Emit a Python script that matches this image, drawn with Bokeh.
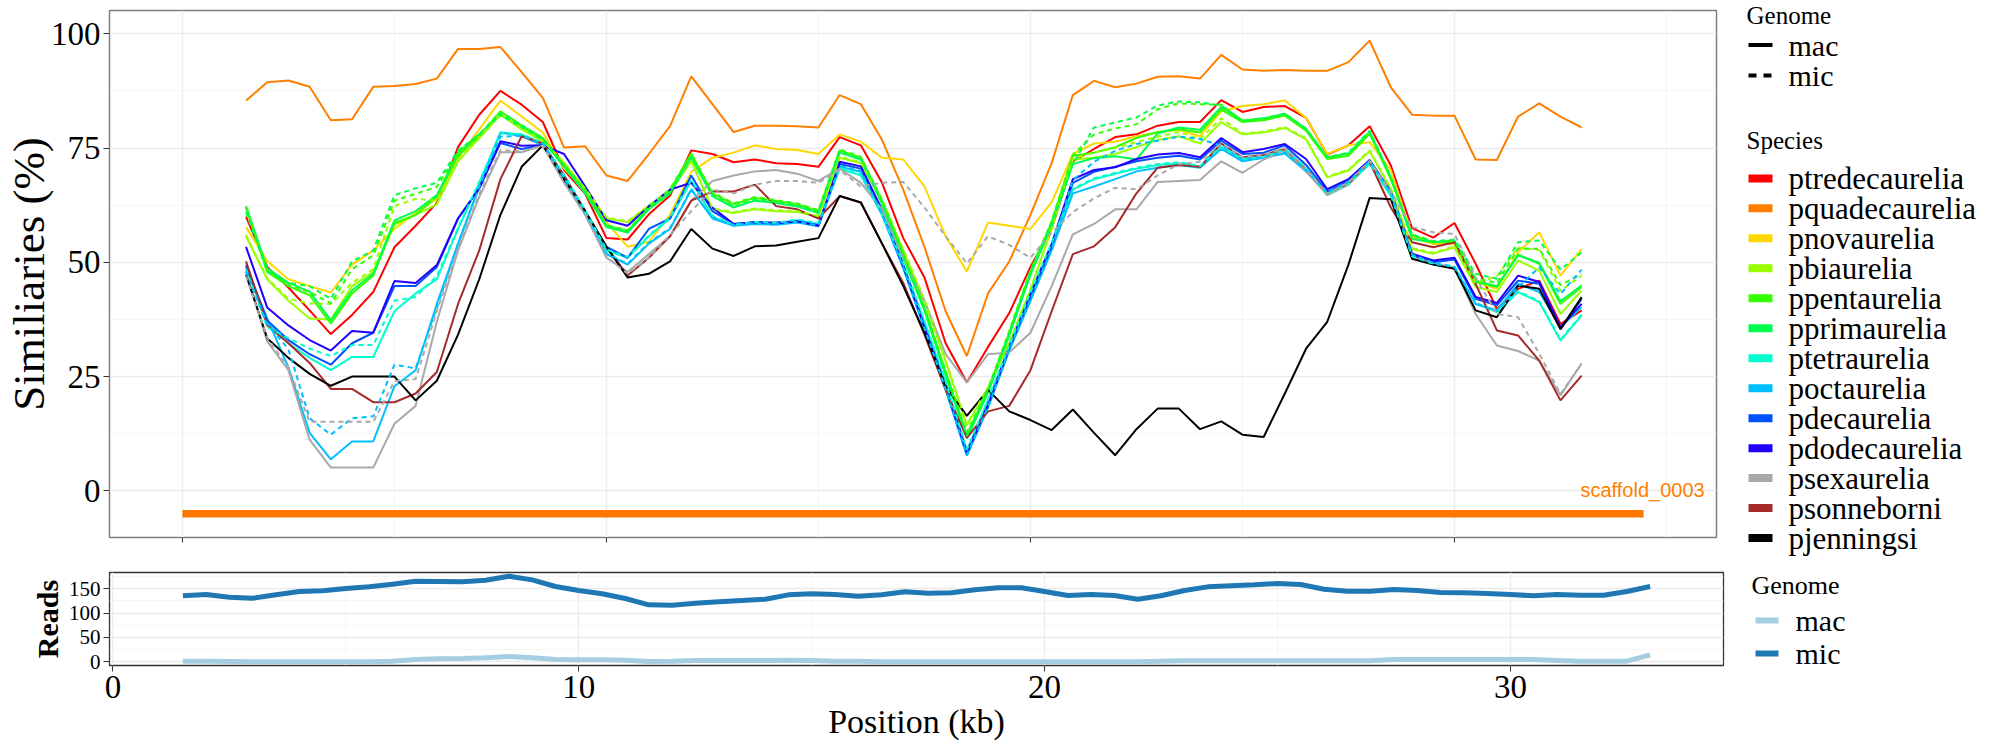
from bokeh.plotting import figure
from bokeh.models import Range1d, FixedTicker, CustomLabelingPolicy
from bokeh.layouts import row, column
from bokeh.embed import file_html
from bokeh.resources import INLINE
from bokeh.core.properties import value

SERIF = "Liberation Serif"
SANS = "Liberation Sans"

# ---------------- data ----------------
position_kb = [1.5, 2.0, 2.5, 3.0, 3.5, 4.0, 4.5, 5.0, 5.5, 6.0, 6.5, 7.0, 7.5, 8.0, 8.5, 9.0,
               9.5, 10.0, 10.5, 11.0, 11.5, 12.0, 12.5, 13.0, 13.5, 14.0, 14.5, 15.0, 15.5, 16.0,
               16.5, 17.0, 17.5, 18.0, 18.5, 19.0, 19.5, 20.0, 20.5, 21.0, 21.5, 22.0, 22.5, 23.0,
               23.5, 24.0, 24.5, 25.0, 25.5, 26.0, 26.5, 27.0, 27.5, 28.0, 28.5, 29.0, 29.5, 30.0,
               30.5, 31.0, 31.5, 32.0, 32.5, 33.0]

species = ["ptredecaurelia", "pquadecaurelia", "pnovaurelia", "pbiaurelia", "ppentaurelia",
           "pprimaurelia", "ptetraurelia", "poctaurelia", "pdecaurelia", "pdodecaurelia",
           "psexaurelia", "psonneborni", "pjenningsi"]
species_colors = ["#FF0000", "#FF7F00", "#FFD700", "#99FF00", "#33FF00", "#00FF4D", "#00FFCC",
                  "#00BFFF", "#0050FF", "#2200FF", "#A9A9A9", "#A52A2A", "#000000"]

ptredecaurelia_mac = [60.0, 49.0, 44.5, 39.5, 34.3, 38.5, 43.5, 53.3, 58.0, 63.0, 75.2, 82.3, 87.5, 84.5, 80.7, 70.2, 65.0, 55.3, 55.0, 60.5, 64.6, 74.5,
                      73.7, 71.9, 72.5, 71.7, 71.5, 70.9, 77.4, 75.6, 67.4, 55.3, 46.7, 32.3, 23.7, 31.5, 38.9, 49.0, 57.3, 72.1, 74.8, 77.4, 78.0, 79.9, 80.7, 80.7, 85.5, 82.9, 84.0, 84.2, 81.6, 73.6,
                      75.6, 79.8, 71.2, 57.5, 55.4, 58.6, 49.7, 39.8, 44.2, 46.0, 36.5, 39.5]
pquadecaurelia_mac = [85.4, 89.4, 89.8, 88.4, 81.1, 81.3, 88.4, 88.6, 89.0, 90.2, 96.7, 96.7, 97.1, 91.6, 86.0, 75.1, 75.4, 69.0, 67.8, 73.7, 79.8, 90.7,
                      84.6, 78.5, 79.9, 79.9, 79.8, 79.5, 86.6, 84.6, 76.8, 65.9, 53.4, 39.3, 29.5, 43.2, 50.2, 60.4, 71.7, 86.6, 89.7, 88.3, 89.1, 90.6, 90.7, 90.2, 95.4, 92.2, 91.9, 92.1, 91.9, 91.9,
                      93.8, 98.5, 88.3, 82.3, 82.1, 82.1, 72.5, 72.4, 81.9, 84.8, 81.9, 79.5]
pnovaurelia_mac = [57.7, 50.3, 46.3, 44.8, 43.4, 49.5, 52.6, 57.3, 60.8, 63.9, 72.9, 79.1, 85.4, 81.9, 78.4, 70.5, 65.9, 58.8, 53.4, 54.5, 60.4, 69.8,
                   72.9, 74.0, 75.6, 74.8, 74.6, 73.7, 78.0, 76.4, 72.9, 72.5, 66.6, 55.7, 48.0, 58.7, 58.0, 57.3, 63.1, 73.7, 76.0, 76.4, 77.6, 78.4, 79.0, 77.6, 83.0, 84.2, 84.6, 85.4, 81.6, 73.7,
                   75.6, 76.3, 70.1, 55.5, 54.0, 54.0, 45.7, 44.2, 52.2, 56.6, 47.1, 52.9]
pbiaurelia_mac = [55.7, 46.3, 41.6, 37.7, 37.5, 44.8, 47.9, 58.2, 60.4, 62.7, 72.1, 77.2, 82.3, 79.1, 76.4, 71.7, 65.9, 59.6, 58.8, 62.3, 65.5, 72.1,
                  61.6, 60.8, 61.6, 61.2, 61.0, 60.0, 72.9, 71.7, 63.5, 52.6, 41.6, 28.4, 14.3, 22.5, 32.3, 44.0, 57.3, 72.5, 72.9, 73.7, 75.2, 76.8, 77.6, 76.0, 80.7, 78.0, 78.4, 79.4, 76.9, 68.6,
                  70.1, 74.3, 66.0, 52.9, 51.9, 53.3, 44.6, 43.5, 50.4, 48.2, 38.7, 43.8]
ppentaurelia_mac = [62.0, 47.9, 44.8, 42.8, 36.6, 43.2, 47.1, 58.6, 60.4, 64.3, 73.3, 77.6, 83.0, 79.9, 77.2, 71.3, 65.9, 58.0, 56.9, 62.0, 65.9, 73.7,
                    65.1, 62.7, 64.1, 63.4, 62.7, 61.2, 74.5, 72.9, 63.5, 51.8, 40.1, 26.0, 12.3, 22.1, 34.6, 47.9, 58.8, 73.3, 74.0, 75.2, 77.2, 78.5, 79.1, 78.4, 83.4, 80.7, 81.1, 82.1, 78.8, 72.6,
                    73.3, 78.1, 68.2, 55.9, 54.4, 54.4, 45.7, 44.6, 51.7, 49.7, 40.9, 44.6]
pprimaurelia_mac = [62.3, 48.7, 45.5, 43.6, 37.3, 43.9, 47.5, 59.2, 61.2, 64.7, 74.0, 78.0, 82.3, 79.5, 76.8, 70.9, 65.1, 57.7, 56.5, 61.6, 65.1, 72.9,
                    64.5, 62.0, 63.5, 63.0, 62.2, 60.8, 74.0, 72.5, 62.8, 51.0, 39.5, 25.3, 11.5, 21.5, 34.0, 47.3, 58.0, 71.5, 72.8, 73.2, 72.5, 78.2, 79.5, 79.0, 84.0, 81.0, 81.5, 82.5, 79.2, 73.0,
                    73.8, 78.6, 68.5, 55.1, 54.4, 54.8, 46.0, 44.8, 51.5, 49.9, 41.5, 45.0]
ptetraurelia_mac = [48.7, 37.0, 32.3, 29.1, 26.4, 29.3, 29.3, 39.3, 43.2, 46.3, 57.3, 67.4, 78.4, 78.0, 76.0, 69.0, 61.2, 52.6, 51.0, 55.7, 59.6, 67.8,
                    60.0, 58.0, 58.7, 58.4, 59.2, 58.4, 70.5, 69.0, 60.4, 49.5, 37.0, 23.7, 8.8, 19.8, 31.5, 43.2, 54.1, 65.9, 68.2, 69.4, 70.5, 71.3, 71.7, 70.9, 75.2, 72.5, 72.9, 74.5, 70.5, 64.7,
                    67.0, 71.5, 64.5, 51.1, 49.5, 48.9, 40.9, 39.1, 43.5, 41.3, 32.9, 38.4]
poctaurelia_mac = [49.0, 37.7, 27.0, 12.7, 6.9, 10.8, 10.8, 22.9, 26.4, 40.9, 54.1, 66.6, 78.4, 77.6, 75.6, 68.2, 60.4, 51.8, 49.5, 54.1, 57.3, 65.9,
                   59.6, 58.0, 58.4, 58.2, 58.7, 57.9, 70.9, 69.8, 60.4, 48.7, 35.4, 22.1, 7.7, 18.2, 30.7, 41.6, 52.6, 65.1, 66.6, 68.2, 69.9, 70.7, 71.3, 70.7, 74.8, 72.1, 72.9, 73.8, 69.9, 65.1,
                   67.5, 72.0, 65.0, 51.5, 49.7, 48.8, 40.9, 39.5, 45.3, 43.5, 35.8, 40.2]
pdecaurelia_mac = [49.4, 37.3, 33.0, 29.9, 27.6, 32.3, 34.6, 44.8, 44.8, 49.0, 59.6, 66.2, 76.1, 74.8, 75.6, 69.0, 61.2, 53.4, 51.0, 57.3, 59.6, 69.0,
                   61.2, 58.4, 58.8, 58.7, 59.0, 58.2, 71.5, 70.5, 61.2, 49.0, 35.8, 22.5, 8.0, 18.6, 31.1, 42.4, 53.4, 67.4, 69.8, 70.9, 72.1, 72.9, 73.3, 72.5, 76.6, 73.7, 74.0, 75.6, 71.3, 65.5,
                   67.8, 72.0, 65.2, 51.5, 50.0, 50.6, 42.0, 40.6, 46.0, 45.3, 35.4, 42.0]
pdodecaurelia_mac = [53.4, 40.1, 36.2, 33.0, 30.7, 35.0, 34.6, 45.9, 45.5, 49.4, 59.6, 66.2, 76.5, 75.5, 75.6, 73.7, 66.6, 59.2, 58.0, 62.3, 65.9, 67.4,
                     62.0, 58.4, 58.8, 58.5, 59.0, 58.0, 72.0, 71.0, 61.5, 49.5, 36.0, 23.0, 8.5, 19.0, 31.5, 43.0, 54.0, 68.2, 70.2, 70.8, 72.6, 73.6, 73.9, 73.0, 77.2, 74.1, 74.8, 75.9, 72.6, 66.0,
                     68.2, 72.4, 65.5, 51.9, 50.4, 51.0, 42.4, 41.1, 47.1, 45.7, 35.8, 40.9]
psexaurelia_mac = [47.9, 32.7, 26.4, 11.2, 5.1, 5.1, 5.1, 14.7, 18.6, 37.0, 52.6, 64.3, 74.1, 74.1, 75.6, 67.4, 60.4, 51.0, 47.9, 51.8, 55.7, 63.5,
                   67.8, 69.0, 69.9, 70.2, 69.4, 67.8, 70.5, 67.4, 61.6, 51.0, 41.6, 29.9, 23.7, 29.9, 30.3, 34.6, 44.8, 56.1, 58.4, 61.6, 61.6, 67.6, 67.8, 68.0, 72.1, 69.6, 72.5, 74.5, 69.9, 64.7,
                   67.0, 72.0, 65.0, 51.1, 49.7, 48.8, 38.7, 31.8, 30.6, 28.5, 20.9, 27.9]
psonneborni_mac = [50.2, 36.2, 32.3, 28.0, 22.3, 22.3, 19.4, 19.4, 21.3, 26.0, 40.9, 52.6, 68.2, 77.6, 76.0, 69.0, 61.2, 53.4, 47.1, 51.0, 55.7, 63.5,
                   65.5, 65.5, 67.0, 62.3, 61.6, 59.6, 64.5, 63.1, 54.1, 45.5, 34.2, 22.1, 11.6, 17.4, 18.6, 26.4, 39.3, 51.8, 53.5, 57.7, 65.1, 70.7, 71.3, 70.9, 76.0, 73.0, 73.5, 74.8, 70.5, 65.1,
                   67.3, 72.0, 62.0, 54.4, 53.3, 54.4, 45.3, 35.1, 34.0, 28.5, 19.8, 25.2]
pjenningsi_mac = [47.3, 33.4, 29.1, 25.6, 23.0, 25.0, 25.0, 25.0, 19.8, 24.1, 34.2, 46.3, 60.4, 70.9, 75.6, 68.2, 61.2, 53.4, 46.7, 47.5, 50.2, 57.3,
                  53.0, 51.4, 53.5, 53.7, 54.5, 55.3, 64.5, 63.1, 54.1, 44.8, 34.6, 22.9, 16.4, 22.1, 17.4, 15.5, 13.3, 17.8, 12.7, 7.8, 13.5, 18.0, 18.0, 13.5, 15.2, 12.3, 11.8, 21.3, 31.1, 37.0,
                  49.5, 64.1, 63.8, 50.8, 49.5, 48.6, 39.5, 38.0, 44.9, 44.2, 35.4, 42.4]

pbiaurelia_mic = [56.0, 46.5, 42.0, 41.0, 40.9, 45.5, 48.5, 62.3, 63.9, 63.5, 72.5, 77.5, 82.5, 79.3, 76.6, 71.9, 66.1, 59.8, 59.0, 62.5, 65.7, 72.3,
                  61.8, 61.0, 61.8, 61.4, 61.2, 60.2, 73.1, 71.9, 63.7, 52.8, 41.8, 28.6, 14.5, 22.7, 32.5, 44.2, 57.5, 72.7, 74.0, 75.0, 76.3, 77.5, 78.5, 77.0, 81.5, 78.2, 78.6, 79.6, 77.1, 68.8,
                  70.3, 74.5, 66.2, 53.1, 52.1, 53.5, 45.5, 47.0, 53.2, 52.7, 43.8, 47.1]
ppentaurelia_mic = [62.0, 48.2, 45.0, 43.5, 41.0, 48.5, 51.5, 63.5, 65.0, 66.5, 74.0, 78.0, 83.0, 80.0, 77.2, 71.3, 66.0, 58.2, 57.0, 62.1, 66.0, 73.8,
                    65.3, 62.9, 64.3, 63.6, 62.9, 61.4, 74.7, 73.1, 63.7, 52.0, 40.3, 26.2, 12.8, 22.4, 35.0, 48.2, 59.0, 73.5, 78.0, 79.3, 80.2, 83.5, 84.8, 84.6, 84.5, 81.0, 81.3, 82.2, 79.0, 72.8,
                    73.5, 78.3, 68.4, 56.1, 54.6, 54.6, 46.5, 45.5, 53.0, 53.0, 45.0, 47.5]
pprimaurelia_mic = [61.0, 48.0, 45.5, 44.8, 42.0, 50.2, 52.6, 64.7, 66.2, 67.4, 74.5, 78.0, 82.5, 80.0, 77.0, 71.0, 65.3, 58.0, 56.7, 61.8, 65.3, 73.1,
                    64.7, 62.2, 63.7, 63.2, 62.4, 61.0, 74.2, 72.7, 63.0, 51.2, 39.7, 25.5, 12.0, 22.0, 34.5, 48.0, 58.5, 71.5, 79.5, 80.6, 81.7, 84.3, 85.2, 85.0, 84.3, 81.0, 81.5, 82.5, 79.2, 73.0,
                    74.0, 78.8, 68.7, 56.0, 54.6, 55.0, 47.5, 46.4, 54.4, 54.8, 48.4, 52.2]
ptetraurelia_mic = [48.5, 35.8, 33.4, 31.1, 29.5, 31.9, 31.9, 41.6, 42.4, 47.0, 57.5, 67.6, 78.2, 78.0, 76.0, 69.2, 61.4, 52.8, 51.2, 55.9, 59.8, 68.0,
                    60.2, 58.2, 58.9, 58.6, 59.4, 58.6, 70.7, 69.2, 60.6, 49.7, 37.2, 23.9, 9.0, 20.0, 31.7, 43.4, 54.3, 66.1, 68.4, 69.6, 70.7, 71.5, 71.9, 71.1, 75.4, 72.7, 73.1, 74.7, 70.7, 64.9,
                    67.2, 71.7, 64.7, 51.3, 49.7, 49.1, 41.1, 39.3, 43.7, 41.5, 33.1, 38.6]
poctaurelia_mic = [48.0, 36.5, 31.0, 15.9, 12.3, 15.9, 16.3, 27.6, 26.8, 40.1, 54.0, 66.5, 77.5, 77.7, 76.0, 68.5, 60.6, 52.0, 49.7, 54.3, 57.5, 66.0,
                   59.8, 58.2, 58.6, 58.4, 58.9, 58.1, 71.1, 70.0, 60.6, 49.0, 35.6, 22.3, 7.9, 18.4, 31.0, 42.0, 53.0, 68.0, 72.0, 74.4, 75.9, 76.6, 77.5, 77.0, 75.5, 72.5, 73.2, 74.0, 70.2, 65.3,
                   67.7, 72.2, 65.2, 51.7, 49.9, 49.0, 41.1, 39.3, 44.6, 48.9, 43.1, 48.4]
psexaurelia_mic = [47.0, 33.5, 27.0, 15.1, 15.1, 15.1, 15.1, 24.0, 24.5, 39.3, 53.0, 65.0, 74.5, 74.3, 75.5, 67.5, 60.5, 51.2, 47.5, 51.0, 56.0, 61.2,
                   65.9, 65.1, 67.0, 67.8, 67.8, 67.4, 70.2, 66.6, 67.4, 67.6, 62.0, 55.7, 49.8, 55.7, 53.8, 51.0, 56.5, 61.0, 64.0, 66.3, 66.0, 69.0, 71.5, 72.0, 76.0, 73.0, 73.5, 75.0, 70.5, 65.0,
                   67.5, 72.2, 65.5, 57.7, 56.6, 56.2, 46.7, 38.7, 38.0, 30.0, 21.2, 27.8]

reads_mac = [1.3, 1.0, 0.6, 0.0, 0.0, 0.0, 0.0, 0.0, 0.0, 1.0, 4.7, 6.1, 6.8, 8.2, 10.9, 8.2, 4.7, 4.0, 4.0, 3.4,
             0.6, 1.3, 2.7, 2.7, 2.7, 2.7, 3.4, 2.7, 1.3, 1.0, 0.0, 0.0, 0.0, 0.0,
             0.0, 0.0, 0.0, 0.0, 0.0, 0.0, 0.0, 0.0, 1.0, 2.0, 2.0, 2.0, 2.0, 2.0, 2.0, 2.0, 2.0, 2.0,
             4.7, 4.7, 4.7, 4.7, 4.7, 4.7, 4.7, 2.7, 1.3, 1.3, 1.3, 14.4]
reads_mic = [135.6, 138.3, 132.8, 130.7, 137.6, 144.4, 145.8, 150.6, 154.0, 159.5, 165.6, 165.0, 164.3, 167.7, 175.9, 168.4, 154.7, 146.5, 139.7, 130.1,
             117.1, 116.3, 120.4, 123.3, 126.0, 128.6, 137.6, 139.7, 138.3, 134.8, 137.6, 143.8, 141.0, 142.0,
             147.9, 152.0, 152.0, 144.4, 136.2, 138.3, 136.2, 128.6, 135.6, 146.5, 154.0, 156.2, 158.2, 160.9, 158.8, 149.2, 145.1, 145.1,
             148.6, 146.5, 142.4, 141.7, 140.3, 138.3, 135.6, 138.3, 136.9, 136.9, 144.4, 154.7]

mac_series = [ptredecaurelia_mac, pquadecaurelia_mac, pnovaurelia_mac, pbiaurelia_mac, ppentaurelia_mac,
              pprimaurelia_mac, ptetraurelia_mac, poctaurelia_mac, pdecaurelia_mac, pdodecaurelia_mac,
              psexaurelia_mac, psonneborni_mac, pjenningsi_mac]
mic_series = {"pbiaurelia": pbiaurelia_mic, "ppentaurelia": ppentaurelia_mic, "pprimaurelia": pprimaurelia_mic,
              "ptetraurelia": ptetraurelia_mic, "poctaurelia": poctaurelia_mic, "psexaurelia": psexaurelia_mic}

scaffold_name = "scaffold_0003"
scaffold_start_kb = 0.0
scaffold_end_kb = 34.46
scaffold_bar_y = -5.0
scaffold_label_x = 35.9
scaffold_label_y = 0.3

genome_names = ["mac", "mic"]
reads_colors = ["#A6CEE3", "#1F78B4"]

for s in mac_series + list(mic_series.values()) + [reads_mac, reads_mic]:
    assert len(s) == len(position_kb), len(s)

# ---------------- top panel ----------------
p_top = figure(title=None, frame_width=1607, frame_height=527,
               x_range=Range1d(-1.72, 36.18), y_range=Range1d(-10.2, 105.1),
               min_border_left=105, min_border_right=28, min_border_top=10, min_border_bottom=15,
               output_backend="svg", toolbar_location=None,
               background_fill_color="white", border_fill_color="white")
p_top.outline_line_color = "#7F7F7F"
p_top.outline_line_width = 1.5

xt_top = FixedTicker(ticks=[0, 10, 20, 30], minor_ticks=[5, 15, 25, 35])
yt_top = FixedTicker(ticks=[0, 25, 50, 75, 100], minor_ticks=[12.5, 37.5, 62.5, 87.5])
p_top.xaxis.ticker = xt_top
p_top.xgrid.ticker = xt_top
p_top.yaxis.ticker = yt_top
p_top.ygrid.ticker = yt_top

for g in (p_top.xgrid, p_top.ygrid):
    g.grid_line_color = "#EBEBEB"
    g.grid_line_width = 1.4
    g.minor_grid_line_color = "#F4F4F4"
    g.minor_grid_line_width = 0.9

ax = p_top.xaxis[0]
ax.axis_line_color = None
ax.major_tick_out = 5
ax.major_tick_in = 0
ax.minor_tick_line_color = None
ax.major_tick_line_color = "#333333"
ax.major_label_text_font_size = "6px"
ax.major_label_standoff = 0
# the upper panel shows tick marks only, no tick labels
ax.major_label_policy = CustomLabelingPolicy(code="""
for (const i of Array.from(indices)) indices.unset(i)
""")

ay = p_top.yaxis[0]
ay.axis_line_color = None
ay.major_tick_out = 6
ay.major_tick_in = 0
ay.minor_tick_line_color = None
ay.major_tick_line_color = "#333333"
ay.major_label_text_font = SERIF
ay.major_label_text_font_size = "33px"
ay.major_label_text_color = "#000000"
ay.major_label_standoff = 3
ay.axis_label = "Similiaries (%)"
ay.axis_label_text_font = SERIF
ay.axis_label_text_font_size = "45px"
ay.axis_label_text_font_style = "normal"
ay.axis_label_text_color = "#000000"
ay.axis_label_standoff = -6

# scaffold bar + label
p_top.segment(x0=[scaffold_start_kb], x1=[scaffold_end_kb], y0=[scaffold_bar_y], y1=[scaffold_bar_y],
              line_color="#FF7700", line_width=7.5)
p_top.text(x=[scaffold_label_x], y=[scaffold_label_y], text=[scaffold_name],
           text_align="right", text_baseline="middle", text_font=value(SANS),
           text_font_size="20px", text_color="#FF7F00")

for name, col, vals in zip(species, species_colors, mac_series):
    p_top.line(position_kb, vals, line_color=col, line_width=2)
for name, col in zip(species, species_colors):
    if name in mic_series:
        p_top.line(position_kb, mic_series[name], line_color=col, line_width=2, line_dash="5 4")

# ---------------- bottom panel ----------------
p_bot = figure(title=None, frame_width=1614, frame_height=93,
               x_range=Range1d(-0.075, 34.575), y_range=Range1d(-7.6, 183.5),
               min_border_left=105, min_border_right=21, min_border_top=20, min_border_bottom=77,
               output_backend="svg", toolbar_location=None,
               background_fill_color="white", border_fill_color="white")
p_bot.outline_line_color = "#333333"
p_bot.outline_line_width = 1.3

xt_bot = FixedTicker(ticks=[0, 10, 20, 30], minor_ticks=[5, 15, 25])
yt_bot = FixedTicker(ticks=[0, 50, 100, 150], minor_ticks=[25, 75, 125, 175])
p_bot.xaxis.ticker = xt_bot
p_bot.xgrid.ticker = xt_bot
p_bot.yaxis.ticker = yt_bot
p_bot.ygrid.ticker = yt_bot
for g in (p_bot.xgrid, p_bot.ygrid):
    g.grid_line_color = "#EBEBEB"
    g.grid_line_width = 1.4
    g.minor_grid_line_color = "#F4F4F4"
    g.minor_grid_line_width = 0.9

bx = p_bot.xaxis[0]
bx.axis_line_color = None
bx.major_tick_out = 6
bx.major_tick_in = 0
bx.minor_tick_line_color = None
bx.major_tick_line_color = "#333333"
bx.major_label_text_font = SERIF
bx.major_label_text_font_size = "33px"
bx.major_label_text_color = "#000000"
bx.major_label_standoff = 4
bx.axis_label = "Position (kb)"
bx.axis_label_text_font = SERIF
bx.axis_label_text_font_size = "34px"
bx.axis_label_text_font_style = "normal"
bx.axis_label_text_color = "#000000"
bx.axis_label_standoff = 2

by = p_bot.yaxis[0]
by.axis_line_color = None
by.major_tick_out = 6
by.major_tick_in = 0
by.minor_tick_line_color = None
by.major_tick_line_color = "#333333"
by.major_label_text_font = SERIF
by.major_label_text_font_size = "21px"
by.major_label_text_color = "#000000"
by.major_label_standoff = 3
by.axis_label = "Reads"
by.axis_label_text_font = SERIF
by.axis_label_text_font_size = "30px"
by.axis_label_text_font_style = "bold"
by.axis_label_text_color = "#000000"
by.axis_label_standoff = 2

for vals, col in zip([reads_mac, reads_mic], reads_colors):
    p_bot.line(position_kb, vals, line_color=col, line_width=5)

# ---------------- legend panel (page-pixel coordinates) ----------------
p_leg = figure(title=None, width=250, height=742, x_range=Range1d(1748, 1998), y_range=Range1d(742, 0),
               min_border=0, x_axis_location=None, y_axis_location=None,
               output_backend="svg", toolbar_location=None,
               background_fill_color="white", border_fill_color="white")
p_leg.outline_line_color = None
p_leg.xgrid.visible = False
p_leg.ygrid.visible = False

key_x0, key_x1, text_x = 1752, 1776, 1792
# Genome (line type) legend
p_leg.text(x=[1750], y=[15], text=["Genome"], text_font=value(SERIF), text_font_size="25px",
           text_baseline="middle", text_color="#000000")
p_leg.segment(x0=[key_x0], x1=[key_x1], y0=[44.6], y1=[44.6], line_color="black", line_width=4)
p_leg.segment(x0=[key_x0], x1=[key_x1], y0=[75], y1=[75], line_color="black", line_width=4, line_dash="8 7")
p_leg.text(x=[text_x, text_x], y=[44.6, 75], text=genome_names, text_font=value(SERIF),
           text_font_size="30px", text_baseline="middle", text_color="#000000")
# Species legend
p_leg.text(x=[1750], y=[140], text=["Species"], text_font=value(SERIF), text_font_size="25px",
           text_baseline="middle", text_color="#000000")
sp_y = [177.9 + 29.97 * k for k in range(len(species))]
p_leg.segment(x0=[key_x0] * len(species), x1=[key_x1] * len(species), y0=sp_y, y1=sp_y,
              line_color=species_colors, line_width=8)
p_leg.text(x=[text_x] * len(species), y=sp_y, text=species, text_font=value(SERIF),
           text_font_size="31px", text_baseline="middle", text_color="#000000")
# Reads Genome legend
p_leg.text(x=[1755], y=[585], text=["Genome"], text_font=value(SERIF), text_font_size="26px",
           text_baseline="middle", text_color="#000000")
rd_y = [620, 653]
p_leg.segment(x0=[1759, 1759], x1=[1782, 1782], y0=rd_y, y1=rd_y, line_color=reads_colors, line_width=6)
p_leg.text(x=[1799, 1799], y=rd_y, text=genome_names, text_font=value(SERIF),
           text_font_size="30px", text_baseline="middle", text_color="#000000")

layout = row(column(p_top, p_bot), p_leg)
open("out.html", "w").write(file_html(layout, INLINE))
